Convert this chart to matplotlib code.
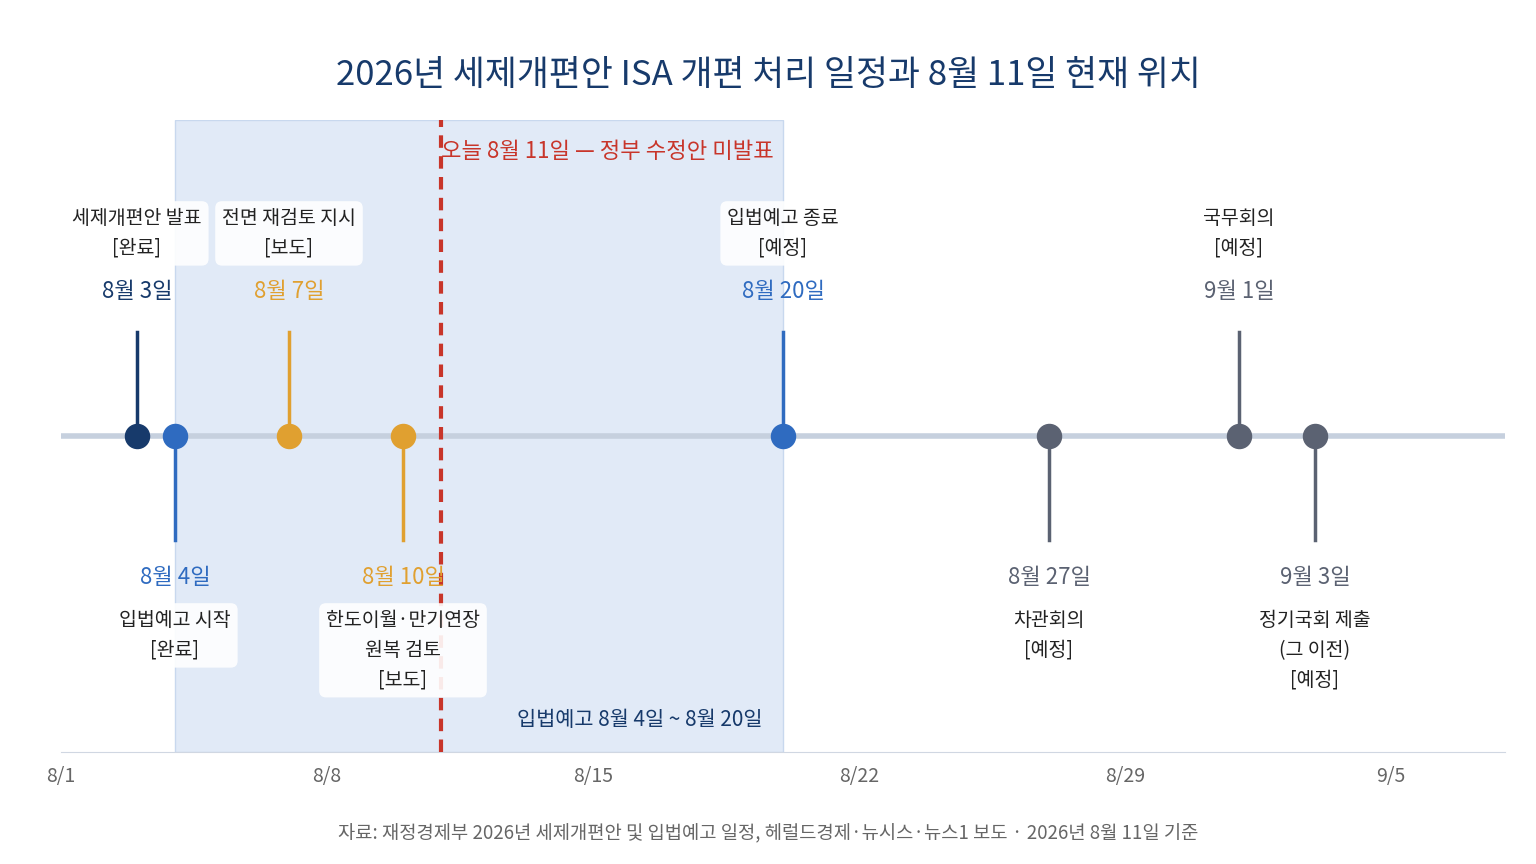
import matplotlib.pyplot as plt
import pandas as pd

plt.rcParams['font.family'] = ['Noto Sans CJK KR', 'DejaVu Sans']

# 일정 데이터
dates = ['2026-08-03', '2026-08-04', '2026-08-07', '2026-08-10',
         '2026-08-20', '2026-08-27', '2026-09-01', '2026-09-03']
date_labels = ['8월 3일', '8월 4일', '8월 7일', '8월 10일',
               '8월 20일', '8월 27일', '9월 1일', '9월 3일']
descs = ['세제개편안 발표\n[완료]', '입법예고 시작\n[완료]', '전면 재검토 지시\n[보도]',
         '한도이월·만기연장\n원복 검토\n[보도]', '입법예고 종료\n[예정]', '차관회의\n[예정]',
         '국무회의\n[예정]', '정기국회 제출\n(그 이전)\n[예정]']
sides = ['up', 'down', 'up', 'down', 'up', 'down', 'up', 'down']
status = ['done', 'notice', 'report', 'report', 'notice', 'plan', 'plan', 'plan']
tick_dates = ['2026-08-01', '2026-08-08', '2026-08-15', '2026-08-22', '2026-08-29', '2026-09-05']
tick_labels = ['8/1', '8/8', '8/15', '8/22', '8/29', '9/5']
today = '2026-08-11'
notice_start, notice_end = '2026-08-04', '2026-08-20'

colors = {'done': '#173a6b', 'notice': '#2f6bc0', 'report': '#e0a030', 'plan': '#5b6272'}
desc_boxed = [True, True, True, True, True, False, False, False]

base = pd.Timestamp('2026-08-01')
def d(s):
    return (pd.Timestamp(s) - base).days

fig = plt.figure(figsize=(15.36, 8.64), dpi=100)
ax = fig.add_axes([61/1536, 112/864, 1444/1536, 632/864])
ax.set_xlim(0, 38)
ax.set_ylim(0, 632)

line_y = 316
ax.axvspan(d(notice_start), d(notice_end), ymin=0, ymax=1, color='#e1eaf7',
           ec='#c8d8ee', lw=1, zorder=0)
ax.axhline(line_y, color='#c6d0de', lw=4, zorder=1)
ax.axvline(d(today), color='#c8352a', lw=3, ls=(0, (3, 2)), zorder=4)
ax.text(d(today), 600, '오늘 8월 11일 — 정부 수정안 미발표', color='#c8352a',
        fontsize=16, ha='left', va='center', zorder=5)
ax.text(d(notice_end) - 0.55, 32, '입법예고 8월 4일 ~ 8월 20일',
        color='#173a6b', fontsize=15, ha='right', va='center')

for dt, lab, desc, side, st, boxed in zip(dates, date_labels, descs, sides, status, desc_boxed):
    x = d(dt)
    c = colors[st]
    box = dict(boxstyle='round,pad=0.35', fc='white', ec='none', alpha=0.9 if boxed else 0)
    if side == 'up':
        ax.plot([x, x], [line_y, 420], color=c, lw=2.5, zorder=2)
        ax.text(x, 460, lab, color=c, fontsize=16, ha='center', va='center', zorder=6)
        ax.text(x, 544, desc, color='#222', fontsize=14, ha='center', va='top',
                linespacing=1.55, zorder=6, bbox=box)
    else:
        ax.plot([x, x], [line_y, 212], color=c, lw=2.5, zorder=2)
        ax.text(x, 175, lab, color=c, fontsize=16, ha='center', va='center', zorder=6)
        ax.text(x, 142, desc, color='#222', fontsize=14, ha='center', va='top',
                linespacing=1.55, zorder=6, bbox=box)
    ax.scatter([x], [line_y], s=300, color=c, zorder=3)

ax.set_xticks([d(t) for t in tick_dates])
ax.set_xticklabels(tick_labels, fontsize=14, color='#666')
ax.set_yticks([])
for s in ['top', 'left', 'right']:
    ax.spines[s].set_visible(False)
ax.spines['bottom'].set_color('#d0d7e2')
ax.tick_params(axis='x', length=0, pad=10)

fig.text(0.5, 1 - 76/864, '2026년 세제개편안 ISA 개편 처리 일정과 8월 11일 현재 위치',
         ha='center', va='center', fontsize=25, color='#173a6b')
fig.text(0.5, 30/864, '자료: 재정경제부 2026년 세제개편안 및 입법예고 일정, 헤럴드경제·뉴시스·뉴스1 보도 · 2026년 8월 11일 기준',
         ha='center', va='center', fontsize=13.5, color='#666')

plt.savefig('out.png', dpi=100)
